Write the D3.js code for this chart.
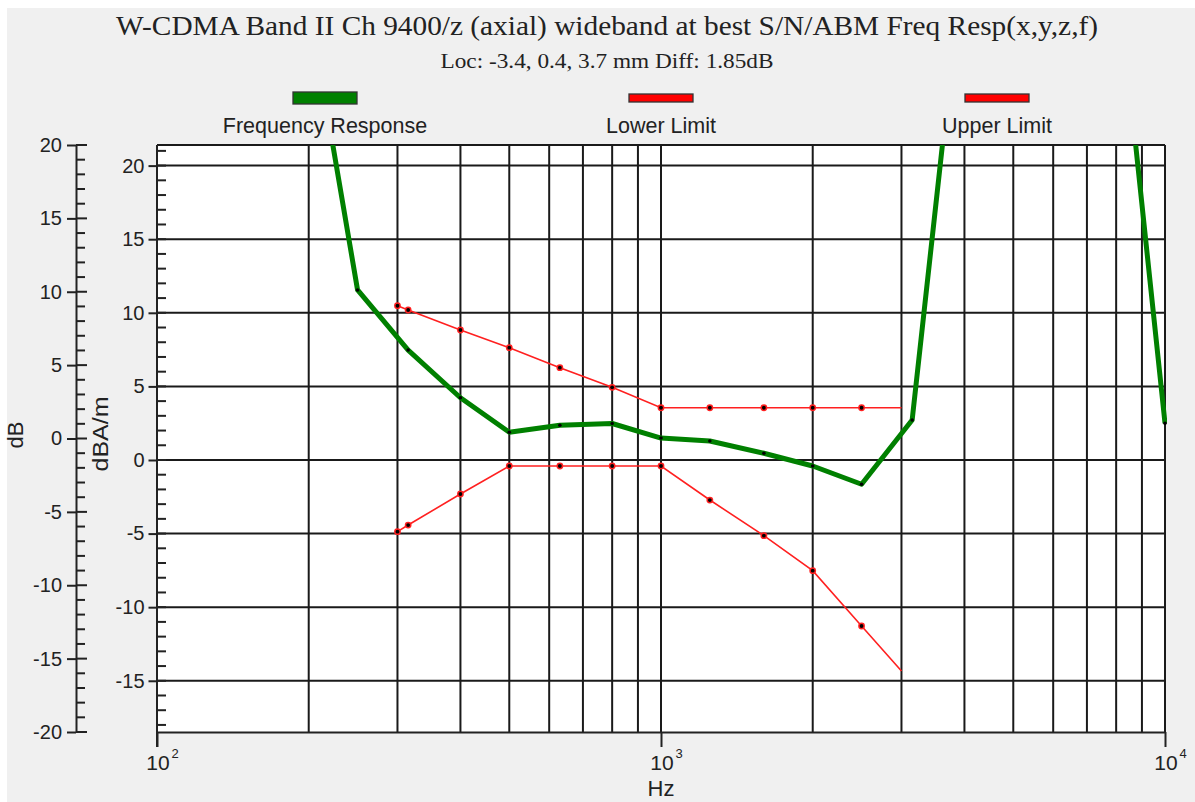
<!DOCTYPE html>
<html>
<head>
<meta charset="utf-8">
<script src="https://cdn.jsdelivr.net/npm/d3@7"></script>
<style>
  html, body { margin: 0; padding: 0; background: #ffffff; }
  svg { display: block; }
  text { fill: #222; }
</style>
</head>
<body>
<svg id="chart" width="1195" height="802"></svg>
<script>
// ---------------- DATA ----------------
const titleText = "W-CDMA Band II Ch 9400/z (axial) wideband at best S/N/ABM Freq Resp(x,y,z,f)";
const subtitleText = "Loc: -3.4, 0.4, 3.7 mm Diff: 1.85dB";
const legendNames = ["Frequency Response", "Lower Limit", "Upper Limit"];

const respFreq = [200, 250, 315, 400, 500, 630, 800, 1000, 1250, 1600, 2000, 2500, 3150, 4000, 5000, 6300, 8000, 10000];
const respValue = [31, 11.55, 7.47, 4.23, 1.88, 2.36, 2.48, 1.49, 1.29, 0.46, -0.41, -1.65, 2.72, 35, 40, 40, 34, 2.49];

const limitFreq = [300, 315, 400, 500, 630, 800, 1000, 1250, 1600, 2000, 2500, 3000];
const lowerValue = [-4.87, -4.42, -2.31, -0.41, -0.41, -0.41, -0.41, -2.72, -5.14, -7.52, -11.28, -14.33];
const upperValue = [10.48, 10.19, 8.83, 7.63, 6.27, 4.94, 3.55, 3.55, 3.55, 3.55, 3.55, 3.55];

const outerTicks = [-20, -15, -10, -5, 0, 5, 10, 15, 20];
const innerTicks = [-15, -10, -5, 0, 5, 10, 15, 20];
const xMajorTicks = [100, 1000, 10000];
const xMajorExp = ["2", "3", "4"];
const xGridTicks = [200, 300, 400, 500, 600, 700, 800, 900, 1000, 2000, 3000, 4000, 5000, 6000, 7000, 8000, 9000];

// ---------------- LAYOUT ----------------
const L = 157, R = 1165, T = 145, B = 732;
const outerX = 76;
const ink = "#222";
const sans = "'Liberation Sans', Arial, sans-serif";
const serif = "'Liberation Serif', 'Times New Roman', serif";

const svg = d3.select("#chart");

svg.append("rect").attr("x", 7).attr("y", 8).attr("width", 1195 - 7).attr("height", 802 - 8).attr("fill", "#f0f0f0");
svg.append("rect").attr("x", L).attr("y", T).attr("width", R - L).attr("height", B - T).attr("fill", "#ffffff");

const x = d3.scaleLog().domain([100, 10000]).range([L, R]);
const yIn = d3.scaleLinear().domain([-18.48, 21.40]).range([B, T]);
const yOut = d3.scaleLinear().domain([-20, 20]).range([B, T]);
const fmt = d => String(d);

// ---------------- TITLES ----------------
svg.append("text").attr("x", 607).attr("y", 35).attr("text-anchor", "middle")
  .attr("font-family", serif).attr("font-size", 28)
  .attr("textLength", 982).attr("lengthAdjust", "spacingAndGlyphs")
  .text(titleText);
svg.append("text").attr("x", 607).attr("y", 68).attr("text-anchor", "middle")
  .attr("font-family", serif).attr("font-size", 21)
  .attr("textLength", 333).attr("lengthAdjust", "spacingAndGlyphs")
  .text(subtitleText);

// ---------------- LEGEND ----------------
const legendColors = ["#008000", "#ff0000", "#ff0000"];
const legendCx = [325, 661, 997];
const legendH = [12, 8, 8];
legendNames.forEach((n, i) => {
  svg.append("rect").attr("x", legendCx[i] - 32).attr("y", 98 - legendH[i] / 2)
    .attr("width", 64).attr("height", legendH[i])
    .attr("fill", legendColors[i]).attr("stroke", "#333").attr("stroke-width", 1.3);
  svg.append("text").attr("x", legendCx[i]).attr("y", 133).attr("text-anchor", "middle")
    .attr("font-family", sans).attr("font-size", 21.5).text(n);
});

// ---------------- GRID ----------------
const grid = svg.append("g").attr("stroke", "#1a1a1a").attr("stroke-width", 2);
grid.selectAll("line.h").data(innerTicks).join("line")
  .attr("x1", L).attr("x2", R).attr("y1", d => yIn(d)).attr("y2", d => yIn(d));
grid.selectAll("line.v").data(xGridTicks).join("line")
  .attr("y1", T).attr("y2", B).attr("x1", d => x(d)).attr("x2", d => x(d));
grid.append("line").attr("x1", L).attr("x2", R).attr("y1", T).attr("y2", T);
grid.append("line").attr("x1", R).attr("x2", R).attr("y1", T).attr("y2", B);

// ---------------- AXES ----------------
function styleAxis(g) {
  g.selectAll("path.domain").attr("stroke", ink).attr("stroke-width", 2);
  g.selectAll(".tick line").attr("stroke", ink).attr("stroke-width", 2);
  g.selectAll(".tick text").attr("fill", ink).attr("font-family", sans).attr("font-size", 20);
}
const gOut = svg.append("g").attr("transform", `translate(${outerX},0)`)
  .call(d3.axisLeft(yOut).tickValues(outerTicks).tickSize(9).tickSizeOuter(0).tickPadding(5).tickFormat(fmt));
styleAxis(gOut);
const outMinor = d3.range(-20, 21).filter(v => v % 5 !== 0);
gOut.selectAll("line.minor").data(outMinor).join("line").attr("class", "minor")
  .attr("x1", 0).attr("x2", 9).attr("y1", d => yOut(d)).attr("y2", d => yOut(d))
  .attr("stroke", ink).attr("stroke-width", 2);
gOut.selectAll("line.majr").data(outerTicks).join("line").attr("class", "majr")
  .attr("x1", 0).attr("x2", 11).attr("y1", d => yOut(d)).attr("y2", d => yOut(d))
  .attr("stroke", ink).attr("stroke-width", 2);

const gIn = svg.append("g").attr("transform", `translate(${L},0)`)
  .call(d3.axisLeft(yIn).tickValues(innerTicks).tickSize(8.5).tickSizeOuter(0).tickPadding(4).tickFormat(fmt));
styleAxis(gIn);
gIn.select("path.domain").remove();
gIn.append("line").attr("x1", 0).attr("x2", 0).attr("y1", T).attr("y2", B + 15)
  .attr("stroke", ink).attr("stroke-width", 2);
const inMinor = d3.range(-18, 22);
gIn.selectAll("line.minor").data(inMinor).join("line").attr("class", "minor")
  .attr("x1", 0).attr("x2", 9).attr("y1", d => yIn(d)).attr("y2", d => yIn(d))
  .attr("stroke", ink).attr("stroke-width", 2);

const gX = svg.append("g").attr("transform", `translate(0,${B})`)
  .call(d3.axisBottom(x).tickValues(xMajorTicks).tickSize(15).tickSizeOuter(0).tickFormat(""));
styleAxis(gX);
xMajorTicks.forEach((t, i) => {
  svg.append("text").attr("x", x(t) + 1).attr("y", 770).attr("text-anchor", "middle")
    .attr("font-family", sans).attr("font-size", 21).text("10");
  svg.append("text").attr("x", x(t) + 14.5).attr("y", 758).attr("text-anchor", "start")
    .attr("font-family", sans).attr("font-size", 13).text(xMajorExp[i]);
});
svg.append("text").attr("x", 661).attr("y", 796).attr("text-anchor", "middle")
  .attr("font-family", sans).attr("font-size", 22).text("Hz");

svg.append("text").attr("transform", "translate(23,435) rotate(-90)").attr("text-anchor", "middle")
  .attr("font-family", sans).attr("font-size", 22).text("dB");
svg.append("text").attr("transform", "translate(108,434) rotate(-90)").attr("text-anchor", "middle")
  .attr("font-family", sans).attr("font-size", 22)
  .attr("textLength", 75).attr("lengthAdjust", "spacingAndGlyphs").text("dBA/m");

// ---------------- SERIES ----------------
svg.append("clipPath").attr("id", "plotclip").append("rect")
  .attr("x", L).attr("y", T).attr("width", R - L + 2).attr("height", B - T);
const plot = svg.append("g").attr("clip-path", "url(#plotclip)");

const line = d3.line().x(d => x(d[0])).y(d => yIn(d[1]));
const lowerPts = limitFreq.map((f, i) => [f, lowerValue[i]]);
const upperPts = limitFreq.map((f, i) => [f, upperValue[i]]);
const respPts = respFreq.map((f, i) => [f, respValue[i]]);

[lowerPts, upperPts].forEach(pts => {
  plot.append("path").datum(pts).attr("d", line).attr("fill", "none")
    .attr("stroke", "#ff2020").attr("stroke-width", 1.6);
  const mk = pts.slice(0, pts.length - 1);
  plot.selectAll(null).data(mk).join("circle")
    .attr("cx", d => x(d[0])).attr("cy", d => yIn(d[1])).attr("r", 3.4).attr("fill", "#ff2020");
  plot.selectAll(null).data(mk).join("circle")
    .attr("cx", d => x(d[0])).attr("cy", d => yIn(d[1])).attr("r", 1.9).attr("fill", "#000");
});

plot.append("path").datum(respPts).attr("d", line).attr("fill", "none")
  .attr("stroke", "#008000").attr("stroke-width", 5).attr("stroke-linejoin", "round");
plot.selectAll(null).data(respPts).join("circle")
  .attr("cx", d => x(d[0])).attr("cy", d => yIn(d[1])).attr("r", 1.8).attr("fill", "#000");
</script>
</body>
</html>
